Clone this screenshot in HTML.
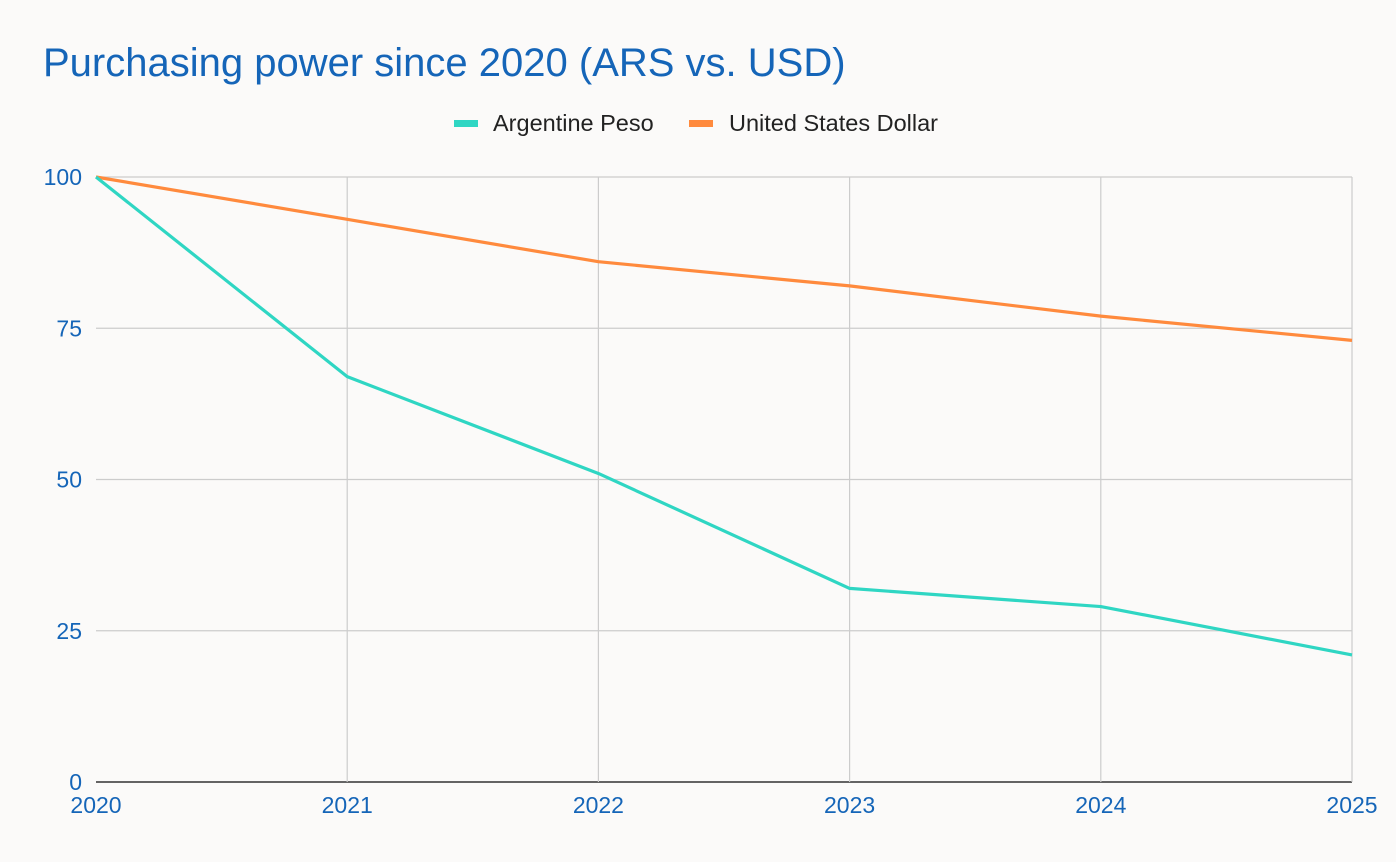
<!DOCTYPE html>
<html><head><meta charset="utf-8"><style>
body{margin:0;background:#fbfaf9;}
svg{display:block;font-family:"Liberation Sans",Arial,sans-serif;}
</style></head><body>
<svg id="chart" width="1396" height="862">
<rect width="1396" height="862" fill="#fbfaf9"/>
<text x="43" y="76" font-size="40" fill="#1565b8">Purchasing power since 2020 (ARS vs. USD)</text>
<g>
<g><rect x="454" y="120" width="24" height="7" fill="#2fd6c3"/><text x="493" y="131" font-size="23.5" fill="#222">Argentine Peso</text></g>
<g><rect x="689" y="120" width="24" height="7" fill="#ff8a3d"/><text x="729" y="131" font-size="23.5" fill="#222">United States Dollar</text></g>
</g>
<g id="grid"></g><g id="axes"></g><g id="series"></g>
</svg>
<script>
const years=["2020","2021","2022","2023","2024","2025"];
const arsValues=[100,67,51,32,29,21];
const usdValues=[100,93,86,82,77,73];
const yTicks=[0,25,50,75,100];
const X0=96,X1=1352,Y0=782,Y1=177;
const NS="http://www.w3.org/2000/svg";
function xs(i){return X0+(X1-X0)*i/(years.length-1);}
function ys(v){return Y0-(Y0-Y1)*v/100;}
function mk(t,a,p){const e=document.createElementNS(NS,t);for(const k in a)e.setAttribute(k,a[k]);p.appendChild(e);return e;}
const grid=document.getElementById('grid'),axes=document.getElementById('axes'),ser=document.getElementById('series');
yTicks.forEach(v=>{
 const l=mk('line',{x1:X0,x2:X1,y1:ys(v),y2:ys(v),stroke:v===0?'#333':'#cccccc','stroke-width':v===0?1.5:1.2},grid);
 
 
 const t=mk('text',{x:X0-14,y:ys(v)+8,'text-anchor':'end','font-size':23,fill:'#1565b8'},axes);
 t.textContent=v;
 
 
});
years.forEach((y,i)=>{
 if(i>0){const l=mk('line',{x1:xs(i),x2:xs(i),y1:Y1,y2:Y0,stroke:'#cccccc','stroke-width':1.2},grid);
 
 }
 const t=mk('text',{x:xs(i),y:Y0+31,'text-anchor':'middle','font-size':23,fill:'#1565b8'},axes);
 t.textContent=y;
 
 
});
function line(vals,color,name){
 const p=mk('polyline',{points:vals.map((v,i)=>xs(i)+','+ys(v)).join(' '),fill:'none',stroke:color,'stroke-width':3.2,'stroke-linejoin':'round'},ser);
 
 
}
line(usdValues,'#ff8a3d','usd-line');
line(arsValues,'#2fd6c3','ars-line');
</script>
</body></html>
